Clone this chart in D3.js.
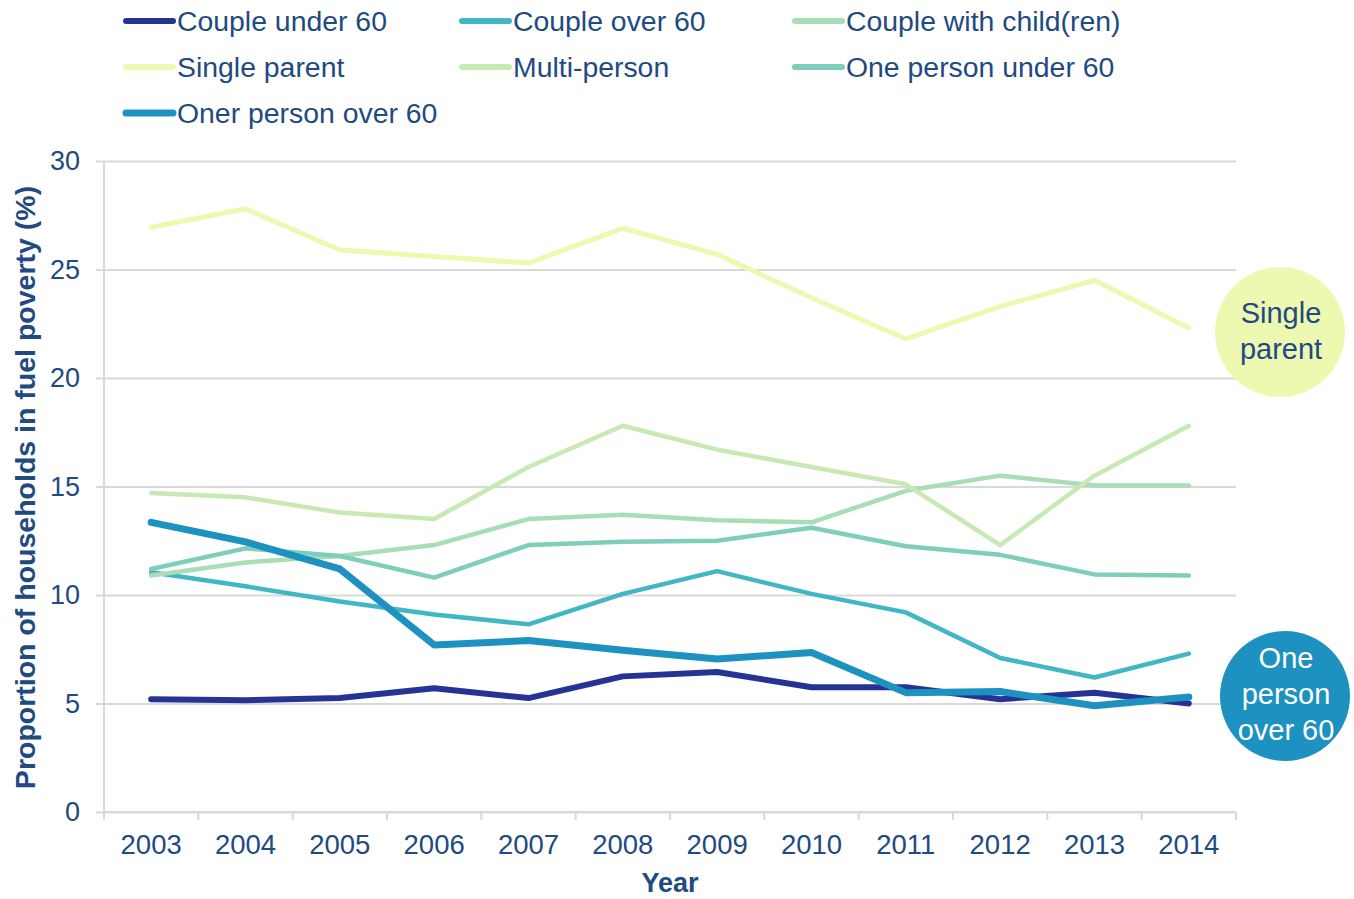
<!DOCTYPE html>
<html>
<head>
<meta charset="utf-8">
<script src="https://cdn.jsdelivr.net/npm/d3@7"></script>
<style>
  body { margin: 0; background: #fff; }
  svg { font-family: "Liberation Sans", Arial, sans-serif; }
</style>
</head>
<body>
<svg id="chart" width="1354" height="899"></svg>
<script>
// Categories and values
let years = ['2003','2004','2005','2006','2007','2008','2009','2010','2011','2012','2013','2014']
let yTicks = [0, 5, 10, 15, 20, 25, 30]

let coupleUnder60 = [5.2, 5.15, 5.25, 5.7, 5.25, 6.25, 6.45, 5.75, 5.75, 5.2, 5.5, 5.0]
let coupleOver60 = [11.05, 10.4, 9.7, 9.1, 8.65, 10.05, 11.1, 10.05, 9.2, 7.1, 6.2, 7.3]
let coupleChildren = [10.9, 11.5, 11.8, 12.3, 13.5, 13.7, 13.45, 13.35, 14.8, 15.5, 15.05, 15.05]
let singleParent = [26.95, 27.8, 25.9, 25.6, 25.3, 26.9, 25.7, 23.7, 21.8, 23.3, 24.5, 22.3]
let multiPerson = [14.7, 14.5, 13.8, 13.5, 15.9, 17.8, 16.7, 15.9, 15.1, 12.3, 15.5, 17.8]
let oneUnder60 = [11.2, 12.15, 11.8, 10.8, 12.3, 12.45, 12.5, 13.1, 12.25, 11.85, 10.95, 10.9]
let oneOver60 = [13.35, 12.45, 11.2, 7.7, 7.9, 7.45, 7.05, 7.35, 5.5, 5.55, 4.9, 5.3]

let seriesNames = ['Couple under 60', 'Couple over 60', 'Couple with child(ren)',
  'Single parent', 'Multi-person', 'One person under 60', 'Oner person over 60']
let seriesValues = [coupleUnder60, coupleOver60, coupleChildren, singleParent, multiPerson, oneUnder60, oneOver60]
let seriesColors = ['#253494', '#41b6c4', '#a8ddb5', '#edf8b1', '#c7e9b4', '#7fcdbb', '#1d91c0']
let seriesWidths = [6, 4.5, 4.5, 5, 4.5, 4.5, 7]

// Plot constants
let textColor = '#214a80'
let gridColor = '#d9d9d9'
let plot = {l: 104, r: 1236, t: 161, b: 812}

let svg = d3.select('#chart')

let x = d3.scaleBand()
  .domain(years)
  .range([plot.l, plot.r])

let y = d3.scaleLinear()
  .domain([0, 30])
  .range([plot.b, plot.t])

// Gridlines and y labels
let yAxis = svg.append('g')
  .attr('transform', `translate(${plot.l}, 0)`)
  .call(d3.axisLeft(y).tickValues(yTicks).tickSize(-(plot.r - plot.l)).tickPadding(24))
yAxis.select('.domain').remove()
yAxis.selectAll('.tick line')
  .attr('x1', -8)
  .attr('stroke', gridColor)
  .attr('stroke-width', 2)
yAxis.selectAll('.tick text')
  .attr('fill', textColor)
  .style('font-size', '27px')

// Left axis line
svg.append('line')
  .attr('x1', plot.l).attr('x2', plot.l)
  .attr('y1', plot.t).attr('y2', plot.b + 8)
  .attr('stroke', gridColor)
  .attr('stroke-width', 2)

// X axis with ticks on category boundaries
let xAxis = svg.append('g')
  .attr('transform', `translate(0, ${plot.b})`)
  .call(d3.axisBottom(x).tickSize(0).tickPadding(22))
xAxis.select('.domain').remove()
xAxis.selectAll('.tick text')
  .attr('fill', textColor)
  .style('font-size', '27.5px')

svg.append('g')
  .selectAll('line')
  .data(years.map(d => x(d)).concat([plot.r]))
  .enter().append('line')
  .attr('x1', d => d).attr('x2', d => d)
  .attr('y1', plot.b).attr('y2', plot.b + 8)
  .attr('stroke', gridColor)
  .attr('stroke-width', 2)

svg.append('line')
  .attr('x1', plot.l).attr('x2', plot.r)
  .attr('y1', plot.b).attr('y2', plot.b)
  .attr('stroke', gridColor)
  .attr('stroke-width', 2)

// Axis titles
svg.append('text')
  .attr('transform', `translate(35, ${(plot.t + plot.b) / 2 + 1}) rotate(-90)`)
  .attr('text-anchor', 'middle')
  .attr('fill', textColor)
  .style('font-size', '28.5px')
  .style('font-weight', 'bold')
  .text('Proportion of households in fuel poverty (%)')

svg.append('text')
  .attr('x', (plot.l + plot.r) / 2)
  .attr('y', 892)
  .attr('text-anchor', 'middle')
  .attr('fill', textColor)
  .style('font-size', '27px')
  .style('font-weight', 'bold')
  .text('Year')

// Lines
let line = d3.line()
  .x((d, i) => x(years[i]) + x.bandwidth() / 2)
  .y(d => y(d))

svg.append('g')
  .selectAll('path')
  .data(seriesValues)
  .enter().append('path')
  .attr('d', line)
  .attr('fill', 'none')
  .attr('stroke', (d, i) => seriesColors[i])
  .attr('stroke-width', (d, i) => seriesWidths[i])
  .attr('stroke-linecap', 'round')
  .attr('stroke-linejoin', 'round')

// Legend
let legendCols = [123, 459, 792]
let legendRows = [21, 67, 113]
let legend = svg.append('g')
  .selectAll('g')
  .data(seriesNames)
  .enter().append('g')
  .attr('transform', (d, i) => `translate(${legendCols[i % 3]}, ${legendRows[Math.floor(i / 3)]})`)

legend.append('line')
  .attr('x1', 3).attr('x2', 50)
  .attr('stroke', (d, i) => seriesColors[i])
  .attr('stroke-width', (d, i) => Math.max(6, seriesWidths[i]))
  .attr('stroke-linecap', 'round')

legend.append('text')
  .attr('x', 54)
  .attr('dy', '0.35em')
  .attr('fill', textColor)
  .style('font-size', '28.4px')
  .text(d => d)

// Callout bubbles
let callouts = [
  {cx: 1280, cy: 332, r: 65, fill: '#edf8b1', color: textColor, lines: ['Single', 'parent'], top: 313},
  {cx: 1285, cy: 696, r: 65, fill: '#1d91c0', color: '#fff', lines: ['One', 'person', 'over 60'], top: 658}
]

let bubble = svg.append('g')
  .selectAll('g')
  .data(callouts)
  .enter().append('g')

bubble.append('circle')
  .attr('cx', d => d.cx)
  .attr('cy', d => d.cy)
  .attr('r', d => d.r)
  .attr('fill', d => d.fill)

bubble.each(function(d) {
  d3.select(this).selectAll('text')
    .data(d.lines)
    .enter().append('text')
    .attr('x', d.cx + 1)
    .attr('y', (t, i) => d.top + i * 36)
    .attr('dy', '0.35em')
    .attr('text-anchor', 'middle')
    .attr('fill', d.color)
    .style('font-size', '29px')
    .text(t => t)
})
</script>
</body>
</html>
